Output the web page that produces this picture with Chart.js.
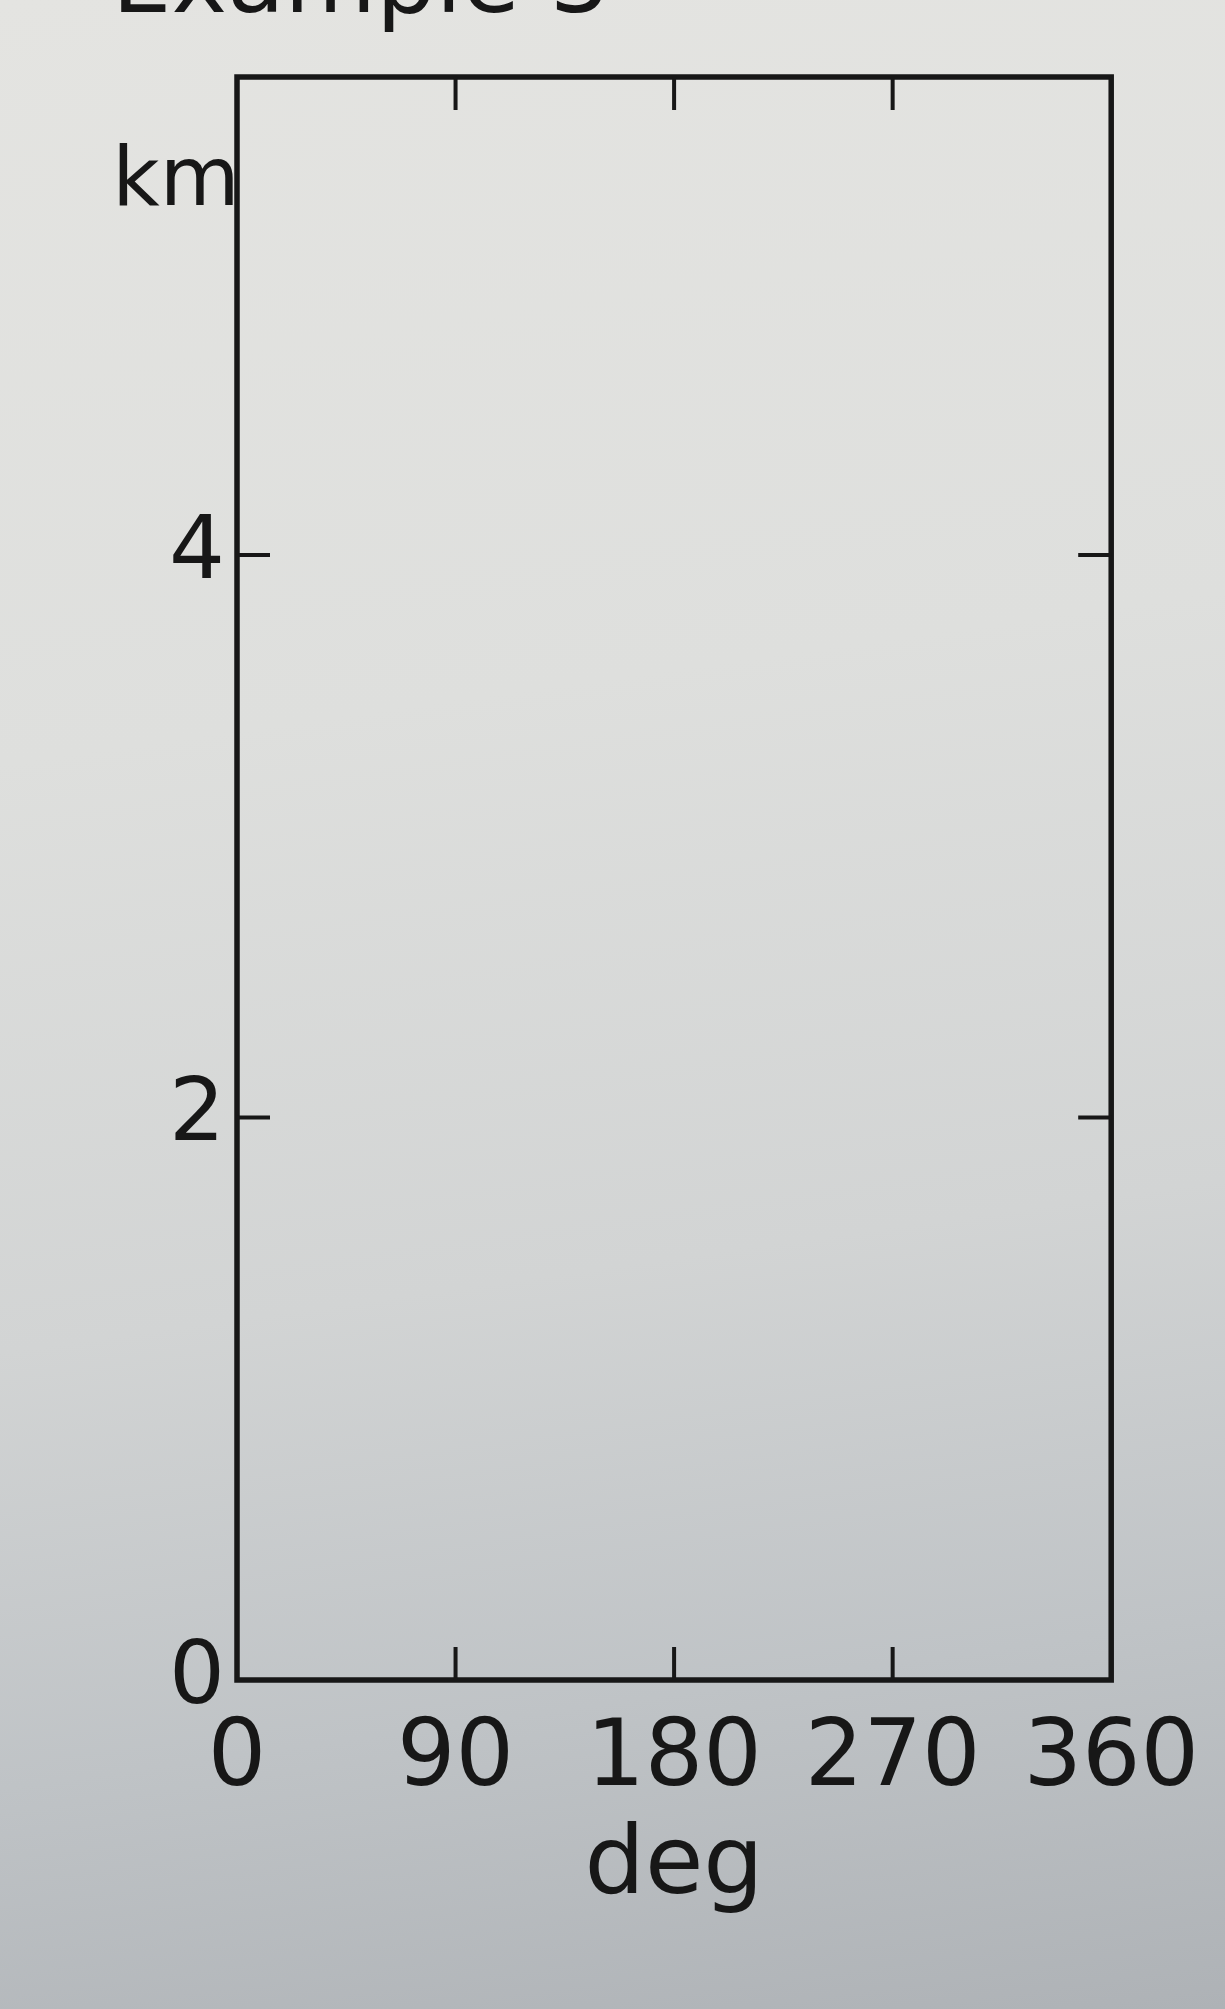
<!DOCTYPE html>
<html><head><meta charset="utf-8">
<script src="https://cdn.jsdelivr.net/npm/chart.js@4/dist/chart.umd.min.js"></script>
<style>
html,body{margin:0;padding:0;width:1225px;height:2009px;overflow:hidden;
background:linear-gradient(172deg,#e4e4e1 0%,#dedfdd 35%,#d2d4d4 62%,#bfc3c6 82%,#aeb2b6 100%);}
#wrap{position:absolute;left:0;top:0;width:1225px;height:2009px;}
canvas{display:block;}
</style></head><body><div id="wrap"><canvas id="c" width="1225" height="2009"></canvas></div>
<script>
// ---- data ----
const xTicks = [0, 90, 180, 270, 360];
const yTicks = [0, 2, 4];
const xRange = [0, 360];
const yRange = [0, 5.7];
const xLabel = 'deg';
const yLabel = 'km';
const titleText = 'Example 3';
const seriesPoints = []; // the reference frame is empty

const INK = '#171717';
const FONT = "'DejaVu Sans', sans-serif";

const framePlugin = {
  id: 'frame',
  afterDraw(chart) {
    const {ctx, chartArea: a, scales: {x, y}} = chart;
    ctx.save();
    ctx.strokeStyle = INK;
    ctx.lineWidth = 5.5;
    ctx.lineJoin = 'miter';
    ctx.strokeRect(a.left, a.top, a.right - a.left, a.bottom - a.top);
    const L = 33;
    ctx.lineWidth = 4;
    ctx.beginPath();
    xTicks.forEach(v => {
      if (v === xRange[0] || v === xRange[1]) return;
      const px = x.getPixelForValue(v);
      ctx.moveTo(px, a.bottom); ctx.lineTo(px, a.bottom - L);
      ctx.moveTo(px, a.top); ctx.lineTo(px, a.top + L);
    });
    yTicks.forEach(v => {
      if (v === yRange[0] || v === yRange[1]) return;
      const py = y.getPixelForValue(v);
      ctx.moveTo(a.left, py); ctx.lineTo(a.left + L, py);
      ctx.moveTo(a.right, py); ctx.lineTo(a.right - L, py);
    });
    ctx.stroke();
    // y unit label (horizontal, top-left)
    ctx.fillStyle = INK;
    ctx.font = "82px " + FONT;
    ctx.textAlign = 'center';
    ctx.textBaseline = 'middle';
    ctx.fillText(yLabel, 176, 184);
    // cut-off heading at the very top
    ctx.font = "94px " + FONT;
    ctx.textAlign = 'left';
    ctx.textBaseline = 'alphabetic';
    ctx.fillText(titleText, 112, 12);
    ctx.restore();
  }
};

new Chart(document.getElementById('c'), {
  type: 'scatter',
  data: { datasets: [{ data: seriesPoints, showLine: false, pointRadius: 0 }] },
  options: {
    responsive: false,
    animation: false,
    devicePixelRatio: 1,
    layout: { padding: { top: 77, right: 105, left: 0, bottom: 0 } },
    plugins: { legend: { display: false }, tooltip: { enabled: false }, title: { display: false } },
    scales: {
      x: {
        type: 'linear', min: xRange[0], max: xRange[1],
        afterBuildTicks: s => { s.ticks = xTicks.map(v => ({ value: v })); },
        afterFit: s => { s.height = 2009 - 1680; },
        grid: { display: false, drawTicks: false },
        border: { display: false },
        ticks: { color: INK, font: { family: FONT, size: 92 }, padding: 26, maxRotation: 0, autoSkip: false },
        title: { display: true, text: xLabel, color: INK, font: { family: FONT, size: 95 }, padding: { top: 0, bottom: 84 } }
      },
      y: {
        type: 'linear', min: yRange[0], max: yRange[1],
        afterBuildTicks: s => { s.ticks = yTicks.map(v => ({ value: v })); },
        afterFit: s => { s.width = 237; },
        grid: { display: false, drawTicks: false },
        border: { display: false },
        ticks: { color: INK, font: { family: FONT, size: 88 }, padding: 12, autoSkip: false },
        title: { display: false }
      }
    }
  },
  plugins: [framePlugin]
});
</script></body></html>
